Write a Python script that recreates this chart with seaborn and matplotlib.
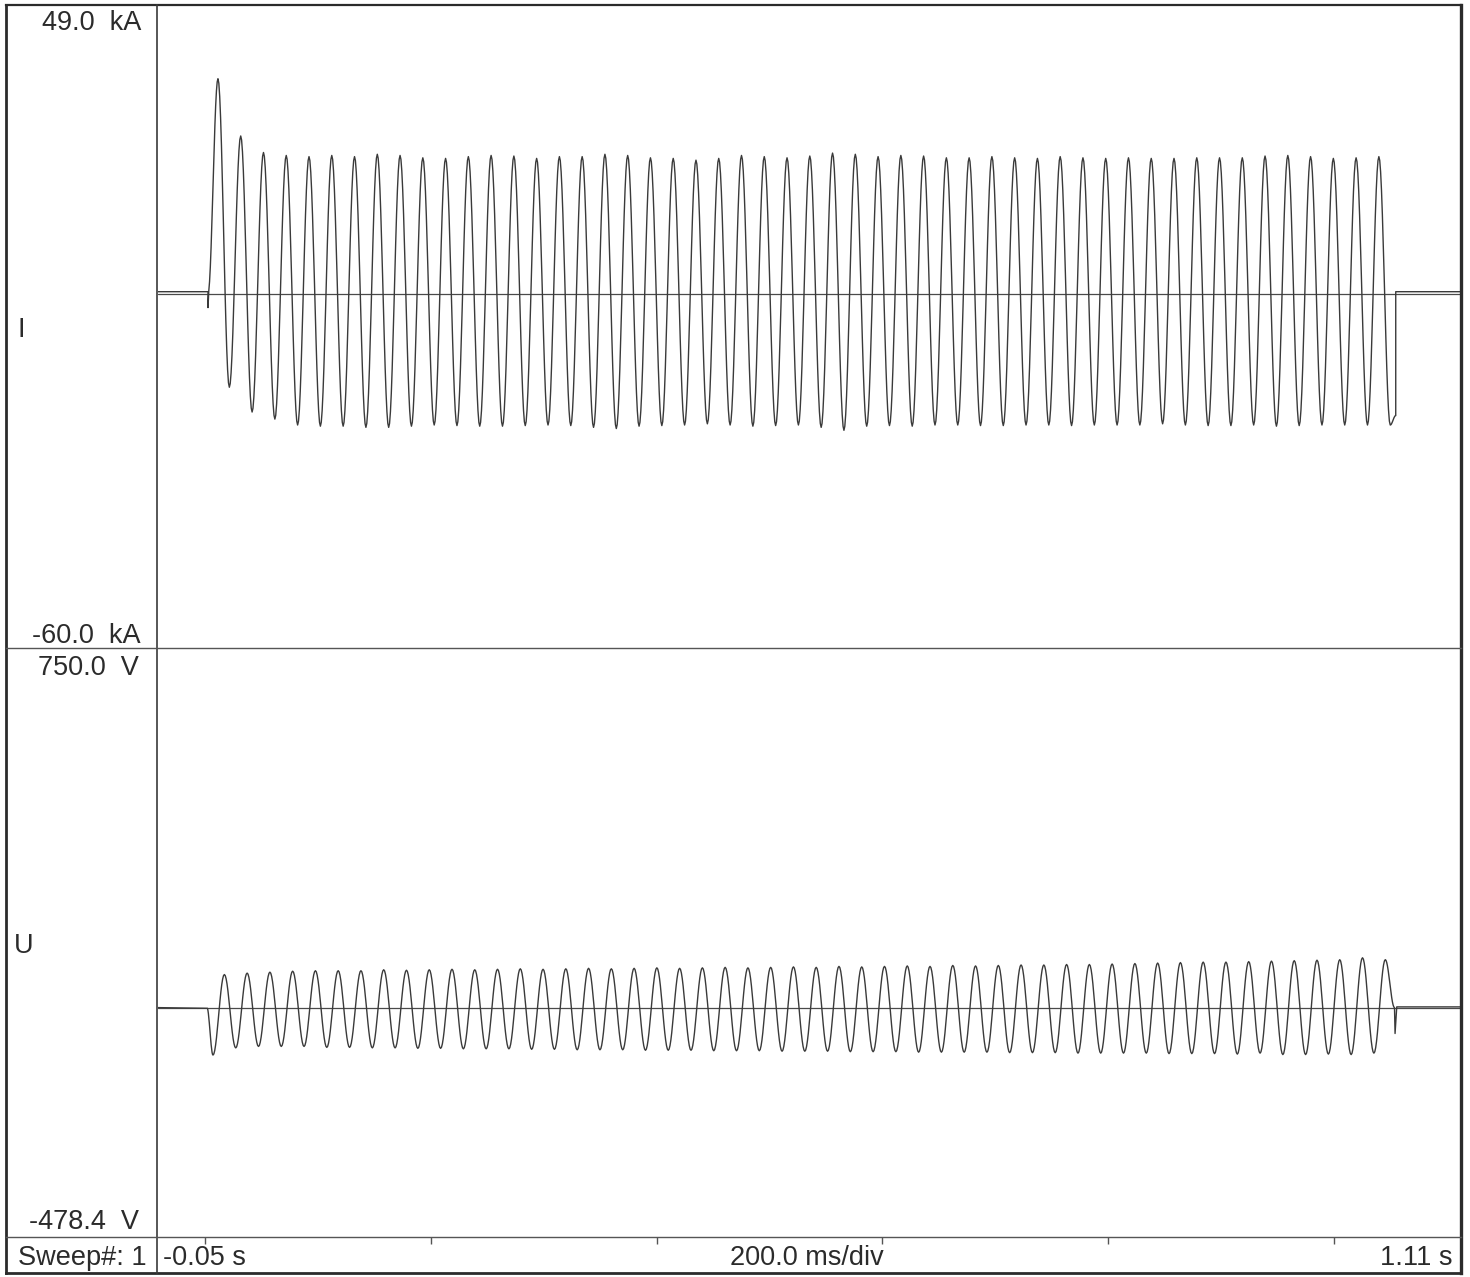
import numpy as np
import pandas as pd
import matplotlib
matplotlib.use("Agg")
import matplotlib.pyplot as plt
import seaborn as sns
from matplotlib.lines import Line2D

sns.set_theme(style="white")
plt.rcParams['font.family'] = ['Liberation Sans', 'DejaVu Sans']

# --- recorder settings read from the sheet ---
I_RANGE = (-60.0, 49.0)        # kA
U_RANGE = (-478.4, 750.0)      # V
T_RANGE = (-0.0416, 1.1124)    # s, shown as -0.05 s ... 1.11 s
T_TICKS = [0.0, 0.2, 0.4, 0.6, 0.8, 1.0]
HALF = 0.01008                 # half period of the trace, s

# --- current trace: start, extrema per cycle, chop ---
I_START = 0.0027
I_T0 = 0.0115                  # time of the first peak
I_BASE = 0.4                   # trace offset before/after the test
I_KICK = -2.3
I_PEAKS = [36.5, 26.8, 24.0, 23.5, 23.3, 23.5, 23.3, 23.7, 23.5, 23.1, 23.0, 23.3, 23.5,
           23.4, 23.0, 23.3, 23.3, 23.7, 23.5, 23.1, 23.0, 22.7, 23.0, 23.5, 23.3, 23.1,
           23.4, 23.9, 23.7, 23.3, 23.5, 23.4, 23.1, 23.1, 23.3, 23.1, 23.0, 23.3, 23.1,
           23.0, 23.1, 23.0, 23.0, 23.1, 23.1, 23.1, 23.4, 23.5, 23.3, 23.0, 23.1, 23.3]
I_TROUGHS = [-15.8, -20.0, -21.2, -22.2, -22.4, -22.4, -22.6, -22.6, -22.4, -22.2, -22.3, -22.4, -22.4,
             -22.3, -22.2, -22.3, -22.6, -22.8, -22.4, -22.3, -22.2, -22.0, -22.2, -22.4, -22.3, -22.2,
             -22.6, -23.1, -22.4, -22.3, -22.4, -22.2, -22.2, -22.3, -22.3, -22.2, -22.2, -22.3, -22.2,
             -22.2, -22.2, -22.0, -22.2, -22.3, -22.3, -22.2, -22.4, -22.3, -22.2, -22.2, -22.2, -22.2]
I_CHOP_T, I_CHOP_V = 1.0546, -20.6

# --- voltage trace ---
U_START = 0.0018
U_T0 = 0.0071                  # time of the first trough
U_TROUGHS = [-99, -84, -81, -81, -81, -83, -83, -84, -84, -85, -85, -86, -86,
             -86, -87, -87, -88, -88, -88, -89, -89, -89, -90, -90, -90, -91,
             -91, -91, -92, -92, -92, -93, -93, -93, -93, -94, -94, -94, -95,
             -95, -95, -95, -96, -96, -96, -97, -95, -98, -98, -97, -98, -95]
U_PEAKS = [69, 72, 74, 76, 77, 77, 77, 79, 78, 79, 80, 79, 80,
           81, 80, 81, 82, 81, 82, 83, 82, 83, 84, 83, 84, 85,
           84, 86, 85, 86, 87, 86, 88, 87, 88, 89, 89, 90, 90,
           91, 92, 93, 94, 95, 95, 96, 97, 98, 99, 100, 104, 100]
U_ZERO_T, U_SPIKE_T, U_SPIKE_V = 1.0535, 1.0540, -54
U_BASE_END = 1.5

W, H = 1470, 1277
INK = '#2b2b2b'


def half_cos(t0, v0, t1, v1, n=14):
    s = np.linspace(0, 1, n)
    return t0 + (t1 - t0) * s, v0 + (v1 - v0) * (1 - np.cos(np.pi * s)) / 2


def build_trace(head, knots, tail):
    ts, vs = [p[0] for p in head], [p[1] for p in head]
    for (t0, v0), (t1, v1) in zip(knots[:-1], knots[1:]):
        a, b = half_cos(t0, v0, t1, v1)
        ts.extend(a[1:]); vs.extend(b[1:])
    ts += [p[0] for p in tail]; vs += [p[1] for p in tail]
    return pd.DataFrame({'t': ts, 'v': vs})


# current: peak, trough, peak, trough ...
i_ext = [v for pair in zip(I_PEAKS, I_TROUGHS) for v in pair]
i_knots = [(I_START, 0.0)] + [(I_T0 + k * HALF, v) for k, v in enumerate(i_ext)] + [(I_CHOP_T, I_CHOP_V)]
df_i = build_trace([(T_RANGE[0], I_BASE), (I_START, I_BASE), (I_START, I_KICK)],
                   i_knots,
                   [(I_CHOP_T, I_BASE), (T_RANGE[1], I_BASE)])

# voltage: trough, peak, trough, peak ...
u_ext = [v for pair in zip(U_TROUGHS, U_PEAKS) for v in pair]
u_knots = [(U_START, 0.0)] + [(U_T0 + k * HALF, v) for k, v in enumerate(u_ext)] + [(U_ZERO_T, 0.0)]
df_u = build_trace([(T_RANGE[0], 0.0)],
                   u_knots,
                   [(U_SPIKE_T, U_SPIKE_V), (U_SPIKE_T + 0.0015, U_BASE_END), (T_RANGE[1], U_BASE_END)])

fig = plt.figure(figsize=(W / 100, H / 100), dpi=100)
fig.set_facecolor('white')


def px_axes(x0, y0, x1, y1):
    return fig.add_axes([x0 / W, 1 - y1 / H, (x1 - x0) / W, (y1 - y0) / H])


ax_i = px_axes(158, 5, 1461, 648)
ax_u = px_axes(158, 648, 1461, 1237)

for ax, df, yr in [(ax_i, df_i, I_RANGE), (ax_u, df_u, U_RANGE)]:
    ax.axhline(0, color='#4a4a4a', lw=0.9, zorder=1)
    sns.lineplot(data=df, x='t', y='v', ax=ax, estimator=None, sort=False,
                 color='#3a3a3a', lw=1.0, zorder=2)
    ax.set_xlim(*T_RANGE)
    ax.set_ylim(*yr)
    ax.set_facecolor('none')
    for sp in ax.spines.values():
        sp.set_visible(False)
    ax.set_xlabel('')
    ax.set_ylabel('')
    ax.set_yticks([])
    ax.set_xticks([])

# division ticks under the lower panel
ax_u.set_xticks(T_TICKS)
ax_u.set_xticklabels([])
ax_u.tick_params(axis='x', bottom=True, direction='out', length=5, width=1, color='#555555')


def frame_line(x0, y0, x1, y1, lw, color=INK):
    fig.add_artist(Line2D([x0 / W, x1 / W], [1 - y0 / H, 1 - y1 / H],
                          transform=fig.transFigure, color=color, lw=lw, solid_capstyle='projecting'))


frame_line(6, 5, 1461, 5, 1.6)
frame_line(6, 1273, 1461, 1273, 2.0)
frame_line(6, 5, 6, 1273, 2.0)
frame_line(1461, 5, 1461, 1273, 2.4)
frame_line(157, 5, 157, 1273, 1.2, '#3a3a3a')
frame_line(6, 648, 1461, 648, 1.0, '#555555')
frame_line(6, 1237, 1461, 1237, 1.0, '#555555')


def label(x, y, s, ha='left'):
    fig.text(x / W, 1 - y / H, s, ha=ha, va='baseline', fontsize=19.5, color=INK)


label(141, 30, '49.0  kA', 'right')
label(141, 643, '-60.0  kA', 'right')
label(17, 337, 'I')
label(139, 675, '750.0  V', 'right')
label(14, 953, 'U')
label(139, 1229, '-478.4  V', 'right')
label(147, 1265, 'Sweep#: 1', 'right')
label(163, 1265, '-0.05 s')
label(807, 1265, '200.0 ms/div', 'center')
label(1453, 1265, '1.11 s', 'right')

fig.savefig('out.png', dpi=100)
